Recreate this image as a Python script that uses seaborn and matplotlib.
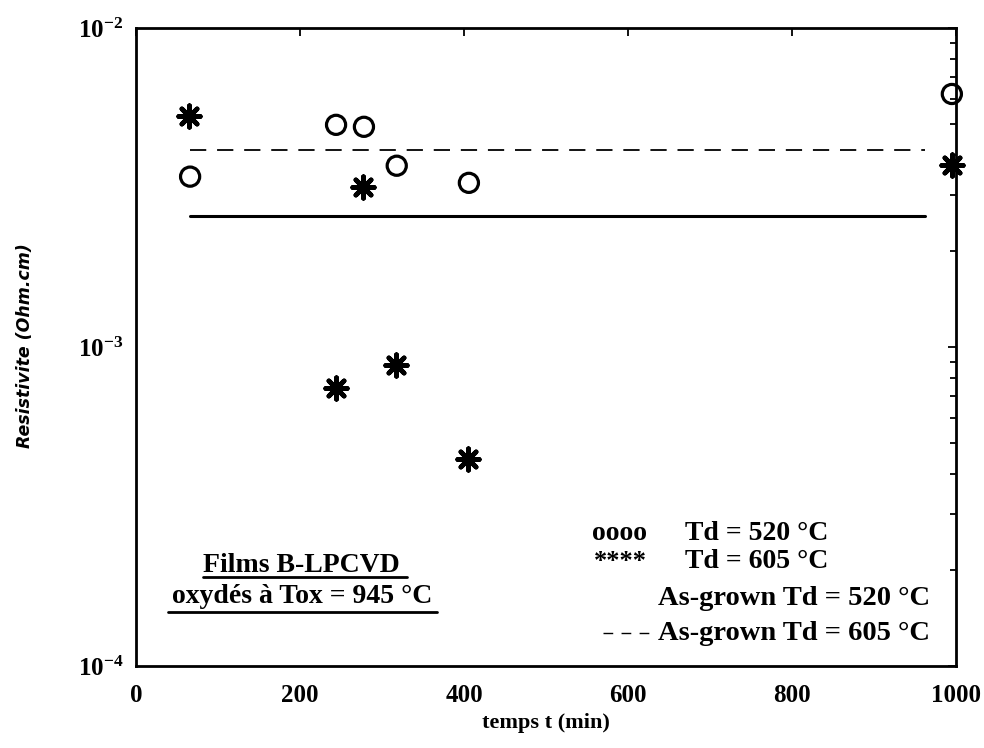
import math
import matplotlib
matplotlib.use("Agg")
import matplotlib.pyplot as plt
import matplotlib.ticker as mticker
import seaborn as sns
import pandas as pd

# Oxidised B-LPCVD films: resistivity vs oxidation time
t_520 = [66, 244, 278, 318, 406, 995]
rho_520 = [3.42e-3, 4.97e-3, 4.90e-3, 3.70e-3, 3.27e-3, 6.21e-3]

t_605 = [65, 277, 244, 317, 405, 995]
rho_605 = [5.30e-3, 3.18e-3, 7.46e-4, 8.81e-4, 4.45e-4, 3.73e-3]

# As-grown reference levels
t_ref = [66, 962]
rho_asgrown_520 = [2.58e-3, 2.58e-3]
rho_asgrown_605 = [4.15e-3, 4.15e-3]

x_ticks = [0, 200, 400, 600, 800, 1000]
y_ticks = [1e-4, 1e-3, 1e-2]

sns.set_theme(style="white")
plt.rcParams["font.family"] = ["Liberation Serif", "DejaVu Serif"]
plt.rcParams["font.weight"] = "bold"
plt.rcParams["text.color"] = "black"
plt.rcParams["axes.labelcolor"] = "black"
plt.rcParams["xtick.color"] = "black"
plt.rcParams["ytick.color"] = "black"
plt.rcParams["mathtext.fontset"] = "custom"
plt.rcParams["mathtext.rm"] = "Liberation Serif:bold"
plt.rcParams["mathtext.bf"] = "Liberation Serif:bold"

fig = plt.figure(figsize=(9.84, 7.48), dpi=100)
ax = fig.add_axes([0.1382, 0.1096, 0.8333, 0.853])

df520 = pd.DataFrame({"t": t_520, "rho": rho_520})
df605 = pd.DataFrame({"t": t_605, "rho": rho_605})
dref = pd.DataFrame({"t": t_ref, "a520": rho_asgrown_520, "a605": rho_asgrown_605})

sns.lineplot(data=dref, x="t", y="a520", ax=ax, color="black", linewidth=2.2)
sns.lineplot(data=dref, x="t", y="a605", ax=ax, color="black", linewidth=1.3)
ax.lines[-1].set_dashes([9, 6])

sns.scatterplot(data=df520, x="t", y="rho", ax=ax, marker="o", s=190,
                facecolor="none", edgecolor="black", linewidth=2.3, zorder=3,
                clip_on=False)
sns.scatterplot(data=df605, x="t", y="rho", ax=ax, marker=(8, 2, 0), s=240,
                color="black", edgecolor="black", linewidth=3.4, zorder=3,
                clip_on=False)

ax.set_yscale("log")
ax.set_xlim(0, 1000)
ax.set_ylim(1e-4, 1e-2)
ax.set_xticks(x_ticks)
ax.set_xticklabels([str(v) for v in x_ticks])
ax.set_yticks(y_ticks)
ax.yaxis.set_major_formatter(mticker.FuncFormatter(
    lambda v, p: r"$\mathbf{10^{%d}}$" % round(math.log10(v))))
ax.yaxis.set_minor_locator(mticker.LogLocator(base=10, subs=range(2, 10)))
ax.yaxis.set_minor_formatter(mticker.NullFormatter())

ax.tick_params(axis="both", which="both", direction="in", top=True, right=True,
               color="black")
ax.tick_params(axis="both", which="major", length=6, width=1.3)
ax.tick_params(axis="x", which="major", labelsize=18, pad=13)
ax.tick_params(axis="y", which="major", labelsize=18, pad=9)
ax.tick_params(axis="y", which="minor", length=4, width=1.3)
for lab in ax.get_xticklabels() + ax.get_yticklabels():
    lab.set_fontweight("bold")

for sp in ax.spines.values():
    sp.set_color("black")
    sp.set_linewidth(2.0)

ax.set_xlabel("temps t (min)", fontsize=16, fontweight="bold", labelpad=4)
ax.set_ylabel("Resistivite (Ohm.cm)", fontsize=12.5, fontweight="bold",
              fontstyle="italic", family=["DejaVu Sans"])
ax.yaxis.set_label_coords(-0.124, 0.503)

# Legend drawn as text rows
tr = ax.transAxes
leg_kw = dict(transform=tr, fontweight="bold", va="baseline", ha="left")
ax.text(0.556, 0.1975, "oooo", fontsize=20, **leg_kw)
ax.text(0.559, 0.1536, "****", fontsize=19, **leg_kw)
ax.text(0.6695, 0.1975, "Td = 520 °C", fontsize=20, **leg_kw)
ax.text(0.6695, 0.1536, "Td = 605 °C", fontsize=20, **leg_kw)
ax.text(0.6366, 0.0956, "As-grown Td = 520 °C", fontsize=20.5, **leg_kw)
ax.text(0.6366, 0.0408, "As-grown Td = 605 °C", fontsize=20.5, **leg_kw)
ax.plot([0.5695, 0.634], [0.0517, 0.0517], transform=tr, color="black",
        linewidth=1.0, dashes=[7, 6])

# Sample description, underlined
ax.text(0.2012, 0.1473, "Films B-LPCVD", transform=tr, fontsize=20,
        fontweight="bold", va="baseline", ha="center")
ax.text(0.2025, 0.0987, "oxydés à Tox = 945 °C", transform=tr, fontsize=20,
        fontweight="bold", va="baseline", ha="center")
ax.plot([0.0817, 0.3305], [0.1395, 0.1395], transform=tr, color="black", lw=2)
ax.plot([0.039, 0.367], [0.0846, 0.0846], transform=tr, color="black", lw=2)

fig.savefig("out.png", dpi=100, facecolor="white")
